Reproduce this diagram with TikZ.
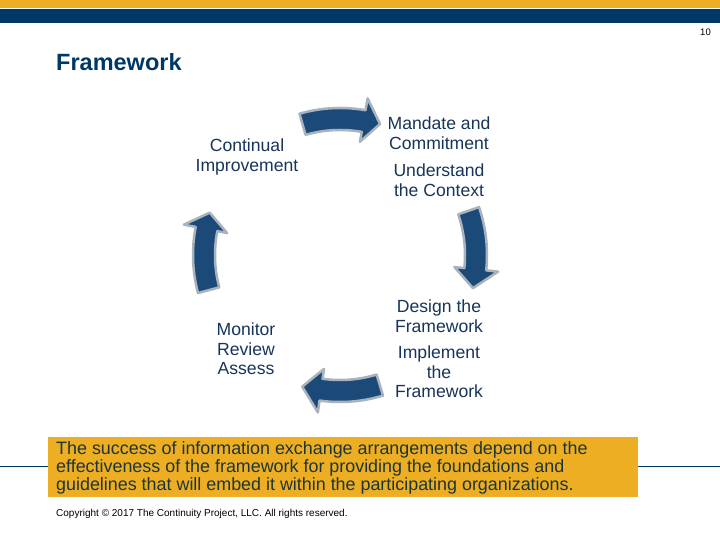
\documentclass[tikz,border=0pt]{standalone}
\usepackage{fontspec}
\setmainfont{Liberation Sans}
\definecolor{gold}{HTML}{EDAE24}
\definecolor{navybar}{HTML}{003865}
\definecolor{arrfill}{HTML}{1C4A78}
\definecolor{arredge}{HTML}{A9B3BD}
\definecolor{txt}{HTML}{17355A}
\definecolor{boxtxt}{HTML}{1C3538}
\newcommand{\cycarrow}[3]{%
  \draw[arr] (#1:125pt) arc[start angle=#1, end angle=#2, radius=125pt]
    -- (#2:115pt) -- (#3:137pt) -- (#2:159pt) -- (#2:147pt)
    arc[start angle=#2, end angle=#1, radius=147pt] -- cycle;}
\begin{document}
\begin{tikzpicture}[x=1pt,y=1pt,
  arr/.style={fill=arrfill,draw=arredge,line width=2.5pt,line join=round},
  lbl/.style={text=txt,align=center,font=\fontsize{17.6}{19.5}\selectfont,inner sep=0pt}]
\useasboundingbox (0,0) rectangle (720,540);
\fill[white] (0,0) rectangle (720,540);
% top bars
\fill[gold] (0,532) rectangle (720,540);
\fill[navybar] (0,517) rectangle (720,530.5);
\node[anchor=base east,inner sep=0pt,font=\fontsize{9.5}{11}\selectfont,text=black] (pg) at (711,504) {10};
% title
\node[anchor=base west,inner sep=0pt,text=navybar,font=\fontsize{23.5}{27}\selectfont\bfseries] (title) at (56,469) {Framework};
% arrows
\begin{scope}[shift={(340,285)}]
\cycarrow{106}{80}{73}
\cycarrow{19}{-6}{-14}
\cycarrow{-73}{-98}{-106}
\cycarrow{195}{169}{162}
\end{scope}
% labels
\node[lbl] (ci) at (247,383) {Continual\\Improvement};
\node[lbl] (mc) at (439,407) {Mandate and\\Commitment};
\node[lbl] (uc) at (439,360) {Understand\\the Context};
\node[lbl] (df) at (439,224) {Design the\\Framework};
\node[lbl] (if) at (439,168) {Implement\\the\\Framework};
\node[lbl] (mr) at (246,191) {Monitor\\Review\\Assess};
% bottom line and box
\draw[navybar,line width=1pt] (0,73) -- (720,73);
\fill[gold] (48,43) rectangle (638,103);
\node[anchor=north west,inner sep=0pt,align=left,text=boxtxt,font=\fontsize{17.9}{18}\selectfont] (msg) at (56,99)
 {The success of information exchange arrangements depend on the\\effectiveness of the framework for providing the foundations and\\guidelines that will embed it within the participating organizations.};
\node[anchor=west,inner sep=0pt,font=\fontsize{10}{12}\selectfont,text=black] (copy) at (56,26) {Copyright © 2017 The Continuity Project, LLC. All rights reserved.};
\end{tikzpicture}
\end{document}
